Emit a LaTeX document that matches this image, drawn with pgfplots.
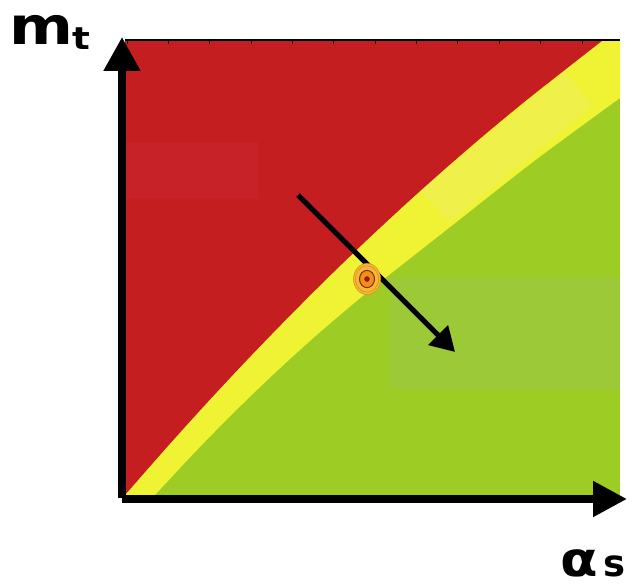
\documentclass[border=0pt]{standalone}
\usepackage{pgfplots}
\pgfplotsset{compat=1.18}
\usepackage{fontspec}
\setmainfont{DejaVu Sans}
\usetikzlibrary{arrows.meta}
\definecolor{cred}{RGB}{196,30,32}
\definecolor{credL}{RGB}{198,34,40}
\definecolor{cyel}{RGB}{240,242,52}
\definecolor{cyelL}{RGB}{239,240,74}
\definecolor{cgrn}{RGB}{157,204,36}
\definecolor{cgrnL}{RGB}{155,201,55}
\definecolor{orOut}{RGB}{246,184,60}
\definecolor{orLine}{RGB}{217,144,15}
\definecolor{orMid}{RGB}{240,144,26}
\definecolor{orDark}{RGB}{122,48,0}
\definecolor{orCore}{RGB}{154,26,10}
\begin{document}
\begin{tikzpicture}
\useasboundingbox (0,0) rectangle (634pt,586pt);
\begin{axis}[
  at={(125pt,91pt)}, anchor=south west,
  scale only axis, width=495pt, height=455pt,
  xmin=0, xmax=1, ymin=0, ymax=1,
  axis x line*=top, axis y line=none,
  axis line style={black, line width=1.2pt},
  xtick={0.0040,0.0876,0.1712,0.2547,0.3383,0.4218,0.5054,0.5889,0.6725,0.7561,0.8396,0.9232},
  xticklabels={},
  tick align=inside, major tick length=4pt,
  tick style={black, line width=0.8pt},
  axis on top=true,
]
% green background
\addplot[fill=cgrn, draw=none] coordinates {(0,0) (1,0) (1,1) (0,1)} -- cycle;
% yellow above yellow/green boundary
\addplot[smooth, fill=cyel, draw=none] coordinates {
 (0.0606,0) (0.1414,0.0943) (0.2222,0.1838) (0.3030,0.2684) (0.3838,0.3483)
 (0.4646,0.4233) (0.5253,0.4765) (0.6667,0.5974) (0.8283,0.7354) (1.0,0.8725)}
 -- (axis cs:1,1) -- (axis cs:0,1) -- (axis cs:0,0) -- cycle;
% lighter yellow patch
\addplot[fill=cyelL, draw=none] coordinates {(0.5960,0.6703) (0.6566,0.5978) (0.9434,0.8549) (0.8909,0.9297)} -- cycle;
% lighter green patch
\addplot[fill=cgrnL, draw=none] coordinates {(0.5354,0.2330) (1,0.2330) (1,0.4791) (0.5354,0.4791)} -- cycle;
% red above red/yellow boundary
\addplot[smooth, fill=cred, draw=none] coordinates {
 (0,0) (0.0808,0.1004) (0.1616,0.1978) (0.2424,0.2921) (0.3232,0.3831)
 (0.4040,0.4712) (0.4848,0.5562) (0.5657,0.6380) (0.6465,0.7167) (0.7273,0.7925)
 (0.8081,0.8651) (0.8889,0.9345) (0.9660,1.0)} -- (axis cs:0,1) -- cycle;
% lighter red patch
\addplot[fill=credL, draw=none] coordinates {(0.002,0.6505) (0.2687,0.6505) (0.2687,0.7758) (0.002,0.7758)} -- cycle;
% likelihood contours
\addplot[only marks, mark=*, mark size=13.5pt, mark options={yscale=1.15, fill=orOut, draw=orLine, line width=0.6pt}] coordinates {(0.4889,0.4747)};
\addplot[only marks, mark=o, mark size=11.5pt, mark options={yscale=1.15, draw=orLine, line width=0.6pt}] coordinates {(0.4889,0.4747)};
\addplot[only marks, mark=*, mark size=7.5pt, mark options={yscale=1.15, fill=orMid, draw=orDark, line width=1pt}] coordinates {(0.4889,0.4747)};
\addplot[only marks, mark=*, mark size=2.5pt, mark options={fill=orCore, draw=orCore}] coordinates {(0.4889,0.4747)};
% shift arrow
\addplot[black, line width=5pt, -{Triangle[length=24pt,width=27pt]}] coordinates {(0.3495,0.6593) (0.6667,0.3143)};
\end{axis}
% axis arrows
\draw[black, line width=8pt, -{Triangle[length=34pt,width=35pt]}] (122pt,88pt) -- (122pt,549pt);
\draw[black, line width=8pt, -{Triangle[length=34pt,width=34pt]}] (122pt,87pt) -- (627pt,87pt);
% labels
\node[anchor=base west, inner sep=0pt, xscale=1.18] at (9pt,541pt) {\fontsize{52}{52}\selectfont\bfseries m};
\node[anchor=base west, inner sep=0pt, xscale=1.2] at (72pt,536pt) {\fontsize{31}{31}\selectfont\bfseries t};
\node[anchor=base west, inner sep=0pt, xscale=1.14] at (560pt,10pt) {\fontsize{48}{48}\selectfont\bfseries α};
\node[anchor=base west, inner sep=0pt] at (603pt,10pt) {\fontsize{37}{37}\selectfont\bfseries s};
\end{tikzpicture}
\end{document}
